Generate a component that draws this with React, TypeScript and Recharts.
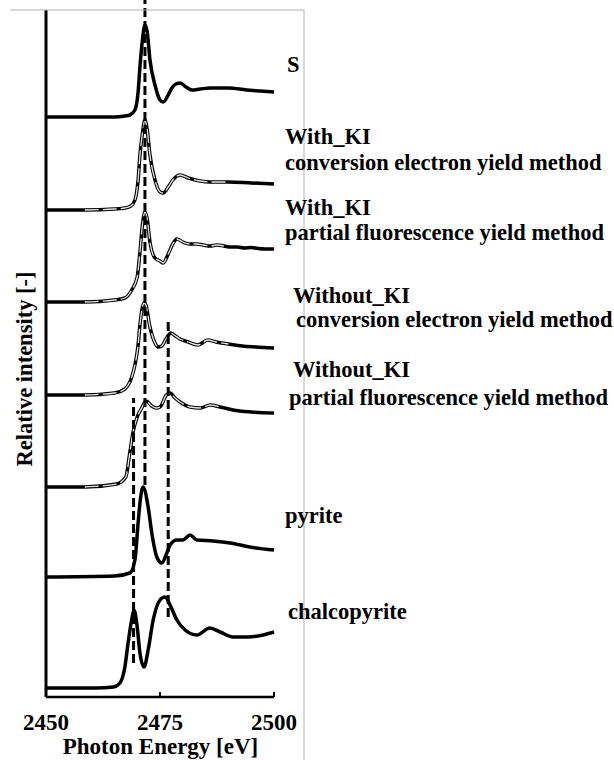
import React from 'react';
import { LineChart, Line, XAxis, YAxis, ReferenceLine } from 'recharts';

// energy [eV], relative height above each spectrum's own baseline
const S_REF: [number, number][] = [
  [2450, 0], [2465, 0], [2467.3, 0.1], [2468.4, 0.2], [2469.5, 0.7], [2470.2, 2.5], [2470.6, 5.0],
  [2471.1, 7.5], [2471.7, 9.2], [2472.2, 8.5], [2472.8, 5.7], [2473.9, 3.2], [2475.0, 1.7], [2475.7, 1.5],
  [2476.8, 2.2], [2477.6, 2.9], [2478.5, 3.3], [2479.4, 3.4], [2480.7, 3.0], [2482.0, 2.7], [2483.8, 2.8],
  [2486, 2.9], [2490, 2.9], [2494, 2.7], [2497, 2.6], [2500, 2.5],
];

const WITH_KI_CEY: [number, number][] = [
  [2450, 0], [2458.5, 0], [2465, 0.1], [2467.3, 0.2], [2468.6, 0.4], [2469.5, 1.0], [2470.2, 3.0],
  [2470.6, 5.5], [2471.1, 7.5], [2471.7, 9.0], [2472.2, 8.0], [2472.8, 5.5], [2473.9, 3.0], [2475.0, 1.8],
  [2475.7, 1.7], [2476.8, 2.3], [2477.8, 3.0], [2479.4, 3.5], [2481.2, 3.2], [2483.8, 2.9], [2486, 2.8],
  [2490, 2.8], [2495, 2.7], [2500, 2.6],
];

const WITH_KI_PFY: [number, number][] = [
  [2450, 0], [2458.5, 0], [2465, 0.2], [2467.3, 0.4], [2468.8, 1.2], [2470.0, 2.5], [2470.6, 5.0],
  [2471.1, 7.5], [2471.7, 9.0], [2472.2, 8.3], [2472.8, 6.0], [2473.9, 4.4], [2475.0, 4.1], [2475.7, 3.9],
  [2476.8, 4.8], [2477.8, 5.8], [2478.7, 6.3], [2480, 6.0], [2481.5, 5.8], [2483, 5.8], [2484.5, 5.7],
  [2486, 5.6], [2487.5, 5.7], [2489, 5.6], [2490.5, 5.5], [2492, 5.5], [2493.5, 5.4], [2495, 5.45],
  [2496.5, 5.35], [2498, 5.3], [2500, 5.3],
];

const WITHOUT_KI_CEY: [number, number][] = [
  [2450, 0], [2458.5, 0], [2465, 0.2], [2467.3, 0.6], [2468.8, 1.8], [2469.5, 3.0], [2470.2, 5.0],
  [2470.6, 7.0], [2471.5, 9.2], [2471.9, 9.0], [2472.8, 6.8], [2473.9, 5.2], [2474.6, 4.8], [2475.4, 4.9],
  [2476.3, 5.6], [2477.4, 6.2], [2478.1, 6.0], [2479.4, 5.6], [2481.2, 5.3], [2483.3, 5.0], [2485.5, 5.5],
  [2487.3, 5.3], [2490, 5.1], [2493, 4.9], [2496, 4.8], [2500, 4.7],
];

const WITHOUT_KI_PFY: [number, number][] = [
  [2450, 0], [2458.5, 0], [2465.5, 0.3], [2467.5, 1.0], [2468.4, 3.5], [2469.1, 5.5], [2470.0, 7.0],
  [2471.1, 8.0], [2471.9, 8.6], [2473.2, 8.1], [2474.1, 7.9], [2475, 8.0], [2476.4, 9.2], [2477.2, 9.4],
  [2478.3, 8.9], [2479.4, 8.5], [2481.6, 8.0], [2483.8, 7.9], [2486, 8.2], [2488.2, 8.0], [2491, 7.7],
  [2495, 7.5], [2500, 7.4],
];

const PYRITE: [number, number][] = [
  [2450, 0], [2465, 0.1], [2468.4, 0.4], [2469.5, 1.7], [2470.2, 5.4], [2470.6, 7.4], [2471.3, 9.0],
  [2472.4, 7.0], [2473.2, 4.4], [2474.3, 2.0], [2475.4, 1.4], [2476.5, 2.4], [2477.2, 3.2], [2478.7, 3.7],
  [2480.0, 3.7], [2481.6, 4.2], [2483.1, 3.7], [2486.6, 3.6], [2490.4, 3.4], [2494.7, 3.0], [2500, 2.7],
];

const CHALCOPYRITE: [number, number][] = [
  [2450, 0], [2461, 0], [2464.8, 0.1], [2466.2, 0.5], [2467.3, 2.1], [2468.0, 4.5], [2468.9, 7.1],
  [2469.3, 7.8], [2470.0, 6.1], [2470.6, 3.5], [2471.5, 2.1], [2472.4, 3.8], [2473.5, 6.8], [2475.0, 8.8],
  [2476.1, 9.1], [2477.2, 8.3], [2478.7, 6.8], [2480.5, 5.8], [2483.1, 5.3], [2485.9, 6.0], [2488.2, 5.6],
  [2491.0, 5.1], [2494.3, 5.1], [2497.6, 5.3], [2500, 5.6],
];

const SPECTRA = [S_REF, WITH_KI_CEY, WITH_KI_PFY, WITHOUT_KI_CEY, WITHOUT_KI_PFY, PYRITE, CHALCOPYRITE];
const OFFSETS = [58.0, 48.7, 39.5, 30.2, 21.0, 12.0, 0.9];
const MEASURED = [false, true, true, true, true, false, false];

const LABELS: string[][] = [
  ['S'],
  ['With_KI', 'conversion electron yield method'],
  ['With_KI', 'partial fluorescence yield method'],
  ['Without_KI', 'conversion electron yield method'],
  ['Without_KI', 'partial fluorescence yield method'],
  ['pyrite'],
  ['chalcopyrite'],
];

// guide lines: energy, lower end, upper end (chart units)
const GUIDES: [number, number, number][] = [
  [2471.7, 21.2, 69.7],
  [2469.2, 3.4, 29.9],
  [2476.8, 8.0, 37.5],
];

const X_TICKS = [2450, 2475, 2500];

const labelPos: [number, number][][] = [
  [[287, 72]],
  [[285, 144], [285, 170]],
  [[285, 215], [285, 240]],
  [[293, 303], [296, 327]],
  [[293, 377], [289, 405]],
  [[285, 523]],
  [[288, 619]],
];

const FONT = 'Liberation Serif';

const series = SPECTRA.map((pts, i) => pts.map(([e, h]) => ({ e, v: h + OFFSETS[i] })));
const overlay = series.map((d) => d.filter((p) => p.e >= 2458.5 && p.e <= 2490));

export default function App() {
  return (
    <div style={{ position: 'absolute', left: 0, top: 0, width: 614, height: 760, background: '#fff', fontFamily: FONT }}>
      <LineChart width={614} height={760} margin={{ top: 10, right: 340, bottom: 0, left: 46 }}>
        <XAxis
          type="number"
          dataKey="e"
          domain={[2450, 2500]}
          ticks={X_TICKS}
          interval={0}
          height={63}
          tickSize={-5}
          tickMargin={22}
          axisLine={{ stroke: '#000', strokeWidth: 2.5 }}
          tickLine={{ stroke: '#000', strokeWidth: 2 }}
          tick={{ fill: '#000', fontWeight: 'bold', fontSize: 23, style: { fontFamily: FONT } }}
        />
        <YAxis type="number" domain={[0, 68.7]} hide width={0} />
        <ReferenceLine x={2450} stroke="#000" strokeWidth={3} />
        {series.map((d, i) => (
          <Line
            key={`s${i}`}
            data={d}
            dataKey="v"
            type="monotone"
            stroke="#000"
            strokeWidth={3.5}
            strokeLinejoin="round"
            dot={false}
            isAnimationActive={false}
          />
        ))}
        {overlay.map((d, i) =>
          MEASURED[i] ? (
            <Line
              key={`o${i}`}
              data={d}
              dataKey="v"
              type="monotone"
              stroke="#e6e6e6"
              strokeWidth={1.3}
              strokeDasharray="14 4"
              dot={false}
              isAnimationActive={false}
            />
          ) : null
        )}
        {GUIDES.map(([e, lo, hi], i) => (
          <ReferenceLine
            key={`g${i}`}
            segment={[{ x: e, y: lo }, { x: e, y: hi }]}
            ifOverflow="visible"
            stroke="#000"
            strokeWidth={3}
            strokeDasharray="9 4"
          />
        ))}
      </LineChart>
      <svg width={614} height={760} style={{ position: 'absolute', left: 0, top: 0, pointerEvents: 'none' }}>
        <line x1={10} y1={10} x2={304} y2={10} stroke="#b0b0b0" strokeWidth={1} />
        <line x1={304} y1={10} x2={304} y2={760} stroke="#b0b0b0" strokeWidth={1} />
        <g style={{ fontFamily: FONT, fontWeight: 'bold', fontSize: 22.5 }} fill="#000">
          {LABELS.map((lines, i) =>
            lines.map((t, j) => (
              <text key={`${i}-${j}`} x={labelPos[i][j][0]} y={labelPos[i][j][1]}>
                {t}
              </text>
            ))
          )}
          <text x={160.5} y={754} textAnchor="middle" style={{ fontSize: 23 }}>Photon Energy [eV]</text>
          <text x={32} y={369} textAnchor="middle" transform="rotate(-90 32 369)" style={{ fontSize: 22.5 }}>Relative intensity [-]</text>
        </g>
      </svg>
    </div>
  );
}
